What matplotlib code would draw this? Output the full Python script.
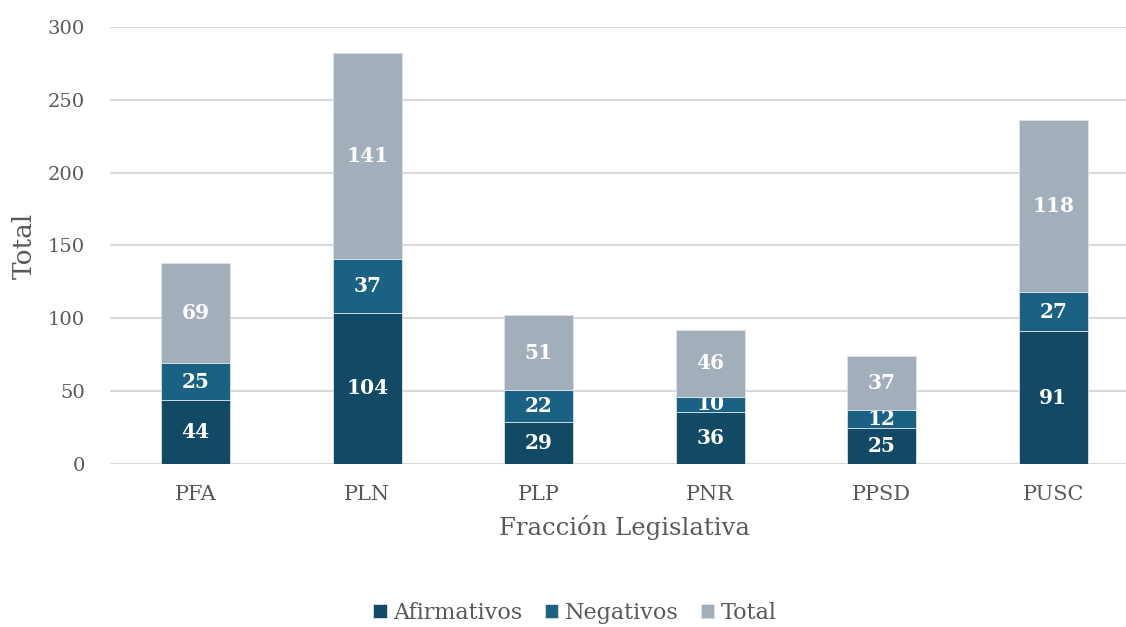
import matplotlib
matplotlib.use('Agg')
import matplotlib.pyplot as plt
import numpy as np

# datos
fracciones = ['PFA', 'PLN', 'PLP', 'PNR', 'PPSD', 'PUSC']
afirmativos = [44, 104, 29, 36, 25, 91]
negativos = [25, 37, 22, 10, 12, 27]
total = [69, 141, 51, 46, 37, 118]

colores = ['#124a66', '#1a6183', '#a2afbb']
gris = '#595959'

plt.rcParams['font.family'] = ['DejaVu Serif']

fig = plt.figure(figsize=(11.26, 6.27), dpi=100)
ax = fig.add_axes([110 / 1126, 163 / 627, 1029 / 1126, 437 / 627])

x = np.arange(len(fracciones))
ancho = 0.4
base = np.zeros(len(fracciones))
series = [('Afirmativos', afirmativos), ('Negativos', negativos), ('Total', total)]
for (nombre, vals), c in zip(series, colores):
    barras = ax.bar(x, vals, ancho, bottom=base, color=c, label=nombre,
                    edgecolor='#dde3e8', linewidth=0.6, zorder=3)
    ax.bar_label(barras, labels=[str(v) for v in vals], label_type='center',
                 color='white', fontweight='bold', fontsize=14.5)
    base += np.array(vals)

ax.set_xlim(-0.5, len(fracciones) - 0.5)
ax.set_ylim(0, 300)
ax.set_yticks(range(0, 301, 50))
ax.set_xticks(x)
ax.set_xticklabels(fracciones)
ax.grid(axis='y', color='#d9d9d9', linewidth=1.5, zorder=0)
for s in ax.spines.values():
    s.set_visible(False)
ax.tick_params(axis='both', length=0, colors=gris)
ax.tick_params(axis='y', labelsize=14, pad=18)
ax.tick_params(axis='x', labelsize=15, pad=15)

ax.set_xlabel('Fracción Legislativa', fontsize=17.5, color=gris, labelpad=8)
ax.set_ylabel('Total', fontsize=19, color=gris, labelpad=8)

fig.legend(loc='center', bbox_to_anchor=(575 / 1126, 14 / 627), ncol=3,
           frameon=False, fontsize=16, labelcolor=gris,
           handlelength=0.6, handleheight=0.6, handletextpad=0.3,
           columnspacing=1.0)

fig.savefig('out.png', dpi=100)
